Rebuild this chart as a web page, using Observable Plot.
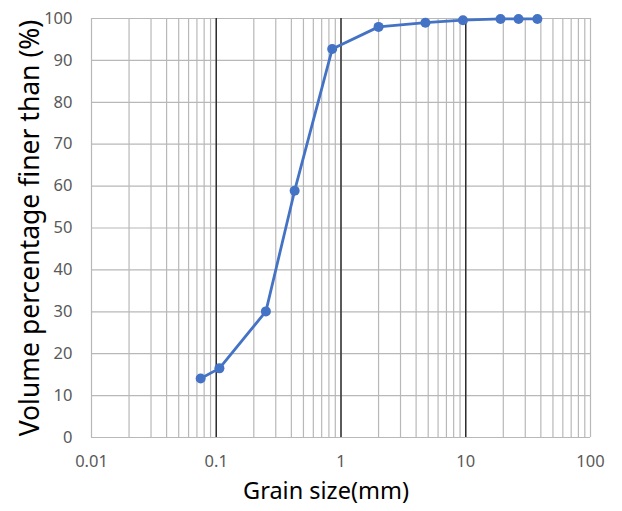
<!DOCTYPE html>
<html>
<head>
<meta charset="utf-8">
<script src="https://cdn.jsdelivr.net/npm/d3@7"></script>
<script src="https://cdn.jsdelivr.net/npm/@observablehq/plot@0.6"></script>
<style>
  html, body { margin: 0; padding: 0; background: #fff; }
  #chart svg { display: block; }
</style>
</head>
<body>
<div id="chart"></div>
<script>
// Data
const grainSize = [0.075, 0.106, 0.25, 0.425, 0.85, 2, 4.75, 9.5, 19, 26.5, 37.5];
const percentFiner = [14.1, 16.5, 30.1, 58.9, 92.7, 98.0, 99.0, 99.6, 99.9, 99.9, 99.9];
const xTickValues = [0.01, 0.1, 1, 10, 100];
const xMajorLines = [0.1, 1, 10];
const yTickValues = [0, 10, 20, 30, 40, 50, 60, 70, 80, 90, 100];
const xTitle = "Grain size(mm)";
const yTitle = "Volume percentage finer than (%)";

// Minor log grid lines (1..9 x each decade)
const minorLines = [];
for (const d of [0.01, 0.1, 1, 10]) for (let k = 1; k <= 9; k++) minorLines.push(+(d * k).toPrecision(3));
minorLines.push(100);

const data = grainSize.map((x, i) => ({x, y: percentFiner[i]}));

const chart = Plot.plot({
  width: 622,
  height: 511,
  marginLeft: 91,
  marginRight: 32,
  marginTop: 18,
  marginBottom: 74,
  style: {fontFamily: "'Noto Sans', sans-serif", fontSize: "16.5px", background: "#fff", overflow: "visible"},
  x: {type: "log", domain: [0.01, 100], ticks: xTickValues, tickFormat: d => String(d), tickSize: 0, tickPadding: 18, label: null},
  y: {domain: [0, 100], ticks: yTickValues, tickSize: 0, tickPadding: 19, label: null},
  marks: [
    Plot.ruleY(yTickValues, {stroke: "#b8b8b8", strokeWidth: 1.2}),
    Plot.ruleX(minorLines, {stroke: "#b8b8b8", strokeWidth: 1.2}),
    Plot.ruleX(xMajorLines, {stroke: "#262626", strokeWidth: 1.4}),
    Plot.axisX({ticks: xTickValues, tickFormat: d => String(d), tickSize: 0, tickPadding: 18, fill: "#595959", fontSize: 16.5, label: null}),
    Plot.axisY({ticks: yTickValues, tickSize: 0, tickPadding: 19, fill: "#595959", fontSize: 16.5, label: null}),
    Plot.line(data, {x: "x", y: "y", stroke: "#4472C4", strokeWidth: 2.8}),
    Plot.dot(data, {x: "x", y: "y", r: 5, fill: "#4472C4", stroke: "none"}),
    Plot.text([xTitle], {text: d => d, frameAnchor: "bottom", textAnchor: "middle", dy: 61, dx: -15, fontSize: 23.5, fill: "#000"}),
    Plot.text([yTitle], {text: d => d, frameAnchor: "left", textAnchor: "middle", rotate: -90, dx: -61, fontSize: 26.5, fill: "#000"})
  ]
});
document.getElementById("chart").appendChild(chart);
</script>
</body>
</html>
